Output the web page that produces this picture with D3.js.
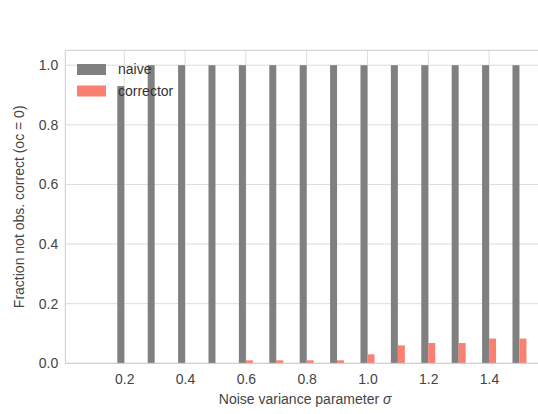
<!DOCTYPE html>
<html>
<head>
<meta charset="utf-8">
<script src="https://cdn.jsdelivr.net/npm/d3@7"></script>
<style>
  html, body { margin: 0; padding: 0; background: #fff; }
  svg { display: block; font-family: "Liberation Sans", Arial, sans-serif; }
</style>
</head>
<body>
<svg id="chart"></svg>
<script>
// noise levels (sigma) and fractions
const sigmas = [0.2, 0.3, 0.4, 0.5, 0.6, 0.7, 0.8, 0.9, 1.0, 1.1, 1.2, 1.3, 1.4, 1.5];
const naive = [0.93, 1, 1, 1, 1, 1, 1, 1, 1, 1, 1, 1, 1, 1];
const corrector = [0, 0, 0, 0, 0.01, 0.01, 0.01, 0.01, 0.03, 0.06, 0.068, 0.068, 0.083, 0.083];
const xTicks = [0.2, 0.4, 0.6, 0.8, 1.0, 1.2, 1.4];
const yTicks = [0, 0.2, 0.4, 0.6, 0.8, 1.0];
const seriesNames = ["naive", "corrector"];
const seriesColors = ["#808080", "#fa8072"];

const width = 538, height = 414;
const plot = { left: 65.3, top: 50.3, right: 545, bottom: 363.3 };
const barW = 0.023;
const fontSize = "14px";

const svg = d3.select("#chart").attr("width", width).attr("height", height);
svg.append("rect").attr("width", width).attr("height", height).attr("fill", "#fff");

const x = d3.scaleLinear().domain([0.006, 1.584]).range([plot.left, plot.right]);
const y = d3.scaleLinear().domain([0, 1.05]).range([plot.bottom, plot.top]);

// grid
const grid = svg.append("g");
grid.selectAll(".hg").data(yTicks).join("line")
    .attr("x1", plot.left).attr("x2", plot.right)
    .attr("y1", d => y(d)).attr("y2", d => y(d))
    .attr("stroke", "#dcdcdc").attr("stroke-width", 1);
grid.selectAll(".vg").data(xTicks).join("line")
    .attr("x1", d => x(d)).attr("x2", d => x(d))
    .attr("y1", plot.top).attr("y2", plot.bottom)
    .attr("stroke", "#dcdcdc").attr("stroke-width", 1);

// bars
const rows = sigmas.map((s, i) => ({ s: s, naive: naive[i], corrector: corrector[i] }));
const bars = svg.append("g");
bars.selectAll(".naive").data(rows).join("rect")
    .attr("x", d => x(d.s - barW))
    .attr("width", d => x(d.s) - x(d.s - barW))
    .attr("y", d => y(d.naive))
    .attr("height", d => y(0) - y(d.naive))
    .attr("fill", seriesColors[0]);
bars.selectAll(".corrector").data(rows).join("rect")
    .attr("x", d => x(d.s))
    .attr("width", d => x(d.s + barW) - x(d.s))
    .attr("y", d => y(d.corrector))
    .attr("height", d => y(0) - y(d.corrector))
    .attr("fill", seriesColors[1]);

// frame
svg.append("rect")
    .attr("x", plot.left).attr("y", plot.top)
    .attr("width", plot.right - plot.left).attr("height", plot.bottom - plot.top)
    .attr("fill", "none").attr("stroke", "#cccccc").attr("stroke-width", 1);

// axes without tick marks
const xAxis = svg.append("g")
    .attr("transform", `translate(0, ${plot.bottom})`)
    .call(d3.axisBottom(x).tickValues(xTicks).tickFormat(d3.format(".1f")).tickSize(0).tickPadding(11));
const yAxis = svg.append("g")
    .attr("transform", `translate(${plot.left}, 0)`)
    .call(d3.axisLeft(y).tickValues(yTicks).tickFormat(d3.format(".1f")).tickSize(0).tickPadding(7));
[xAxis, yAxis].forEach(a => {
    a.select(".domain").remove();
    a.selectAll("text").attr("fill", "#444").style("font-size", fontSize)
        .style("font-family", "'Liberation Sans', Arial, sans-serif");
});

// axis titles
svg.append("text")
    .attr("x", (plot.left + plot.right) / 2).attr("y", 404)
    .attr("text-anchor", "middle").attr("fill", "#444").style("font-size", fontSize)
    .html("Noise variance parameter <tspan font-style='italic'>σ</tspan>");
svg.append("text")
    .attr("transform", `translate(24, ${(plot.top + plot.bottom) / 2}) rotate(-90)`)
    .attr("text-anchor", "middle").attr("fill", "#444").style("font-size", fontSize)
    .text("Fraction not obs. correct (oc = 0)");

// legend
const legend = svg.append("g").selectAll("g").data(seriesNames).join("g")
    .attr("transform", (d, i) => `translate(77, ${69.5 + i * 21.5})`);
legend.append("rect")
    .attr("x", 0).attr("y", -5.5).attr("width", 29).attr("height", 11)
    .attr("fill", (d, i) => seriesColors[i]);
legend.append("text")
    .attr("x", 41).attr("dy", "0.35em")
    .attr("fill", "#333").style("font-size", fontSize)
    .text(d => d);
</script>
</body>
</html>
